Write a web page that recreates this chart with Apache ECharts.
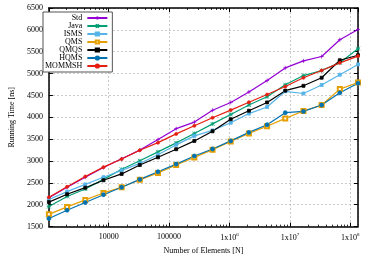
<!DOCTYPE html>
<html><head><meta charset="utf-8">
<script src="https://cdn.jsdelivr.net/npm/echarts@6/dist/echarts.min.js"></script>
<style>html,body{margin:0;padding:0;background:#fff}#c{width:371px;height:260px}</style>
</head><body><div id="c"></div>
<script>
var sizes = [1024, 2048, 4096, 8192, 16384, 32768, 65536, 131072, 262144, 524288, 1048576, 2097152, 4194304, 8388608, 16777216, 33554432, 67108864, 134217728];
var std    = [2160, 2400, 2630, 2850, 3050, 3250, 3490, 3740, 3890, 4160, 4340, 4580, 4840, 5130, 5290, 5390, 5775, 6010];
var java   = [1960, 2190, 2360, 2580, 2810, 3005, 3210, 3415, 3630, 3850, 4065, 4280, 4470, 4745, 4955, 5070, 5250, 5570];
var isms   = [2120, 2300, 2465, 2630, 2785, 2945, 3145, 3370, 3575, 3700, 3875, 4085, 4235, 4595, 4545, 4740, 4975, 5210];
var qms    = [1780, 1950, 2110, 2270, 2400, 2570, 2725, 2910, 3080, 3260, 3445, 3630, 3795, 3975, 4145, 4280, 4645, 4795];
var qmqs   = [2060, 2240, 2390, 2560, 2705, 2910, 3085, 3270, 3460, 3680, 3955, 4150, 4340, 4610, 4720, 4905, 5305, 5420];
var hqms   = [1685, 1875, 2050, 2230, 2400, 2580, 2755, 2930, 3115, 3275, 3460, 3655, 3830, 4105, 4135, 4280, 4560, 4780];
var mommsh = [2170, 2410, 2645, 2860, 3045, 3245, 3420, 3620, 3805, 3990, 4165, 4345, 4520, 4705, 4905, 5070, 5245, 5400];
var names = ['Std', 'Java', 'ISMS', 'QMS', 'QMQS', 'HQMS', 'MOMMSH'];
var xTickLabels = {4: '10000', 5: '100000', 6: '1x10{s|6}', 7: '1x10{s|7}', 8: '1x10{s|8}'};
var xMinorTicks = [
  2e3, 3e3, 4e3, 5e3, 6e3, 7e3, 8e3, 9e3,
  2e4, 3e4, 4e4, 5e4, 6e4, 7e4, 8e4, 9e4,
  2e5, 3e5, 4e5, 5e5, 6e5, 7e5, 8e5, 9e5,
  2e6, 3e6, 4e6, 5e6, 6e6, 7e6, 8e6, 9e6,
  2e7, 3e7, 4e7, 5e7, 6e7, 7e7, 8e7, 9e7
];

var FONT = 'Liberation Serif';
function pairs(v) { return sizes.map(function (x, i) { return [x, v[i]]; }); }
var styles = [
  {c: '#9400d3', sym: 'path://M0,5L10,5M5,0L5,10', sz: 4},
  {c: '#009e73', sym: 'path://M0,0L10,10M10,0L0,10M5,0L5,10M0,5L10,5', sz: 4},
  {c: '#56b4e9', sym: 'rect', sz: 3},
  {c: '#e69f00', sym: 'emptyRect', sz: 4},
  {c: '#000000', sym: 'rect', sz: 3},
  {c: '#0072b2', sym: 'circle', sz: 4},
  {c: '#e51e10', sym: 'circle', sz: 3}
];
var vals = [std, java, isms, qms, qmqs, hqms, mommsh];
var series = names.map(function (n, i) {
  var s = styles[i];
  return {
    name: n, type: 'line', data: pairs(vals[i]), symbol: s.sym, symbolSize: s.sz,
    showAllSymbol: true, animation: false,
    lineStyle: {color: s.c, width: 1.2},
    itemStyle: {color: s.c, borderColor: s.c, borderWidth: 0.8}
  };
});
var chart = echarts.init(document.getElementById('c'), null, {renderer: 'canvas'});
var axisText = {fontFamily: FONT, fontSize: 8, color: '#000'};
function minorAxis(pos) {
  return {
    type: 'log', logBase: 10, min: 1024, max: 134217728, position: pos,
    axisLine: {show: false},
    axisTick: {show: true, inside: true, length: 2, customValues: xMinorTicks, lineStyle: {color: '#000', width: 0.8}},
    axisLabel: {show: false}, splitLine: {show: false}
  };
}
chart.setOption({
  backgroundColor: '#fff',
  animation: false,
  grid: {left: 40, right: 13, top: 8, bottom: 24, show: false},
  legend: {
    orient: 'vertical', left: 43, top: 12, align: 'right',
    backgroundColor: '#fff', borderColor: '#555', borderWidth: 1, padding: [2, 4, 2, 2],
    itemWidth: 20, itemHeight: 4, itemGap: 0,
    formatter: function (n) { return '{a|' + n + '}'; },
    textStyle: {fontFamily: FONT, fontSize: 8, color: '#000', lineHeight: 7.2,
      rich: {a: {width: 36, align: 'right', fontFamily: FONT, fontSize: 8, lineHeight: 7.2}}},
    data: names
  },
  xAxis: [{
    type: 'log', logBase: 10, min: 1024, max: 134217728,
    name: 'Number of Elements [N]', nameLocation: 'middle', nameGap: 16,
    nameTextStyle: {fontFamily: FONT, fontSize: 8, color: '#000'},
    axisLine: {lineStyle: {color: '#000', width: 1.5}},
    axisTick: {inside: true, length: 4, lineStyle: {color: '#000'}},
    axisLabel: Object.assign({margin: 6, showMinLabel: false, showMaxLabel: false,
      formatter: function (v) { var e = Math.round(Math.log10(v)); return Math.abs(Math.log10(v) - e) < 1e-6 ? (xTickLabels[e] || '') : ''; },
      rich: {s: {fontFamily: FONT, fontSize: 5, verticalAlign: 'top', padding: [0, 0, 6, 0]}}}, axisText),
    splitLine: {show: true, lineStyle: {color: '#bbb', type: [2, 2], width: 0.8}}
  }, {
    type: 'log', logBase: 10, min: 1024, max: 134217728, position: 'top',
    axisLine: {lineStyle: {color: '#000', width: 1.5}},
    axisTick: {inside: true, length: 4, lineStyle: {color: '#000'}},
    axisLabel: {show: false}, splitLine: {show: false}
  }, minorAxis('bottom'), minorAxis('top')],
  yAxis: [{
    type: 'value', min: 1500, max: 6500, interval: 500,
    name: 'Running Time [ns]', nameLocation: 'middle', nameGap: 32,
    nameTextStyle: {fontFamily: FONT, fontSize: 8, color: '#000'},
    axisLine: {show: true, lineStyle: {color: '#000', width: 1.5}},
    axisTick: {show: true, inside: true, length: 4, lineStyle: {color: '#000'}},
    axisLabel: Object.assign({margin: 6, formatter: function (v) { return String(v); }}, axisText),
    splitLine: {show: true, lineStyle: {color: '#bbb', type: [2, 2], width: 0.8}}
  }, {
    type: 'value', min: 1500, max: 6500, interval: 500, position: 'right',
    axisLine: {show: true, lineStyle: {color: '#000', width: 1.5}},
    axisTick: {show: true, inside: true, length: 4, lineStyle: {color: '#000'}},
    axisLabel: {show: false}, splitLine: {show: false}
  }],
  series: series
});
</script></body></html>
